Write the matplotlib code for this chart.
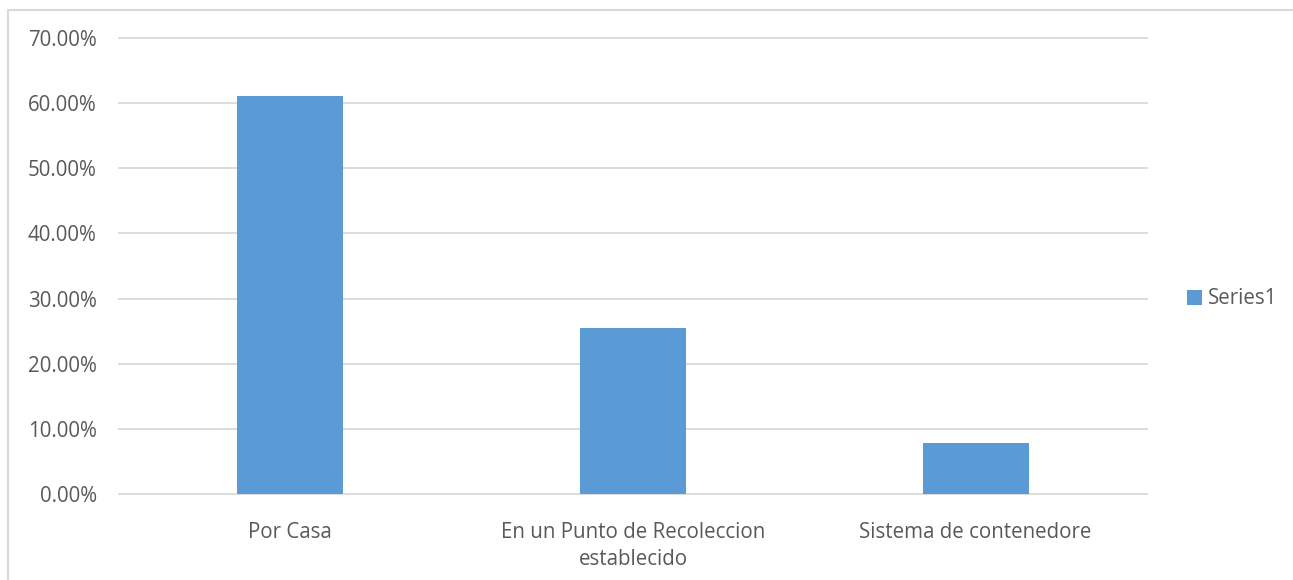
import matplotlib.pyplot as plt
from matplotlib.patches import Rectangle
from matplotlib.ticker import FuncFormatter

plt.rcParams['font.family'] = ['Open Sans', 'DejaVu Sans']

categorias = ["Por Casa", "En un Punto de Recoleccion\nestablecido", "Sistema de contenedore"]
valores = [0.611, 0.255, 0.078]
serie = "Series1"

gris = "#595959"
azul = "#5B9BD5"

fig = plt.figure(figsize=(12.93, 5.80), dpi=100)
# marco del grafico (cortado a la derecha y abajo)
fig.patches.append(Rectangle((8 / 1293, -0.1), 1.2, 1 - 10 / 580 + 0.1,
                             transform=fig.transFigure, fill=False,
                             edgecolor="#d9d9d9", linewidth=1.5))

ax = fig.add_axes([119 / 1293, 1 - 494 / 580, (1147 - 119) / 1293, (494 - 38) / 580])
x = range(len(categorias))
ax.bar(x, valores, width=0.31, color=azul, label=serie, zorder=3)

ax.set_xlim(-0.5, 2.5)
ax.set_ylim(0, 0.70)
ax.set_yticks([i / 10 for i in range(8)])
ax.yaxis.set_major_formatter(FuncFormatter(lambda v, p: f"{v * 100:.2f}%"))
ax.set_xticks(list(x))
ax.set_xticklabels(categorias, linespacing=1.4)
ax.grid(axis="y", color="#d9d9d9", linewidth=1.3, zorder=0)
for g in ax.get_ygridlines():
    g.set_clip_on(False)
for s in ax.spines.values():
    s.set_visible(False)
ax.tick_params(axis="both", length=0, labelsize=14.8, colors=gris)
ax.tick_params(axis="x", pad=20)
ax.tick_params(axis="y", pad=16)

fig.legend(loc="center left", bbox_to_anchor=(1168 / 1293, 1 - 299 / 580), frameon=False,
           fontsize=14.8, labelcolor=gris, handlelength=0.75, handleheight=0.75, handletextpad=0.3)

fig.savefig("out.png", dpi=100)
